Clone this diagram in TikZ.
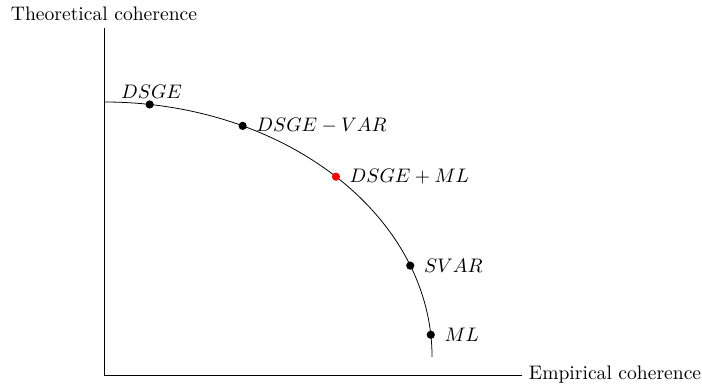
\documentclass[tikz,border=0pt]{standalone}
\usetikzlibrary{calc}

\begin{document}
\begin{tikzpicture}[x=1cm,y=1cm,
  dot/.style={circle,fill,inner sep=0pt,minimum size=4.2pt},
  lblabove/.style={label={[xshift=1pt,label distance=-3pt]above:$#1$}},
  lblright/.style={label={[label distance=1.2pt]right:$#1$}}]
  \useasboundingbox (-1.867,-0.215) rectangle (10.734,6.731);
  \coordinate (o) at (0,0);
  \coordinate (ytop) at (0,6.229);
  \coordinate (xend) at (7.503,0);
  \coordinate (c) at (0,0.323);
  % axes
  \draw (ytop) node[above] (ylab) {Theoretical coherence} -- (o)
    -- (xend) node[right] (xlab) {Empirical coherence};
  % frontier
  \draw (0,4.900) arc[start angle=90,end angle=0,x radius=5.888,y radius=4.577];
  \foreach \a/\pos/\lbl/\col [count=\i] in {
      82/lblabove/DSGE/black,
      65/lblright/DSGE-VAR/black,
      45/lblright/DSGE+ML/red,
      21/lblright/SVAR/black,
      5/lblright/ML/black} {
    \node[dot,fill=\col,\pos=\lbl] (p\i) at ($(c)+({5.888*cos(\a)},{4.577*sin(\a)})$) {};
  }
\end{tikzpicture}
\end{document}
